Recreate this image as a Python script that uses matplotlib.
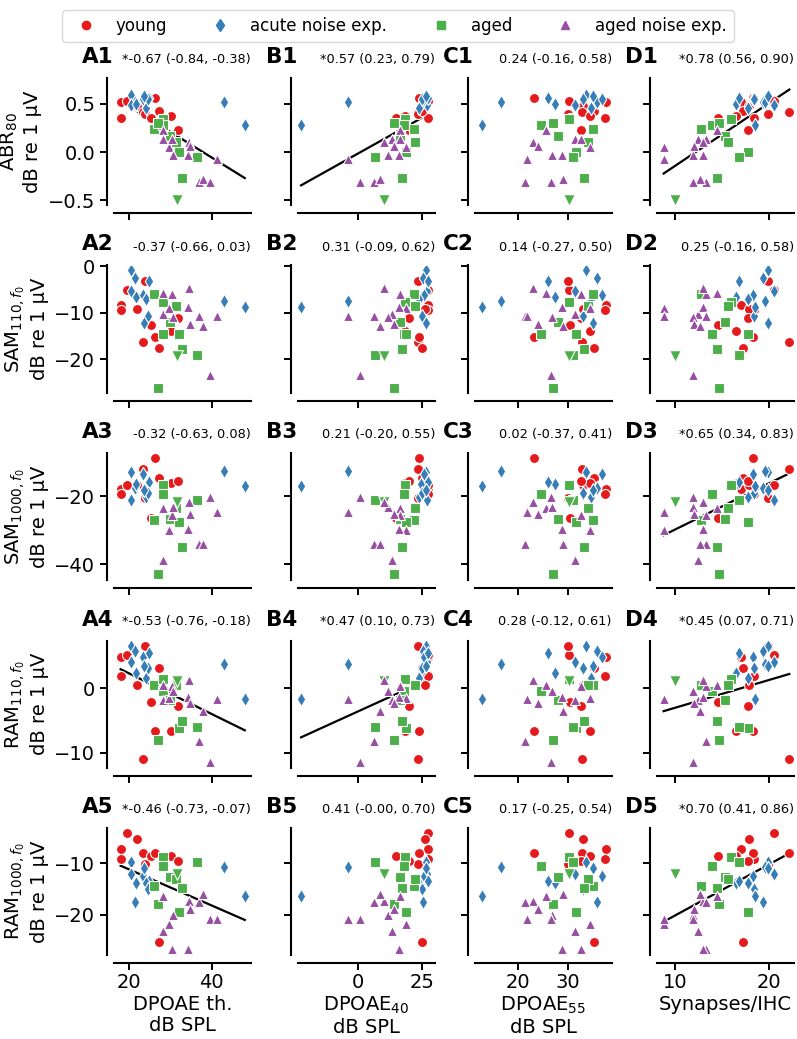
import numpy as np
import matplotlib.pyplot as plt
from matplotlib.lines import Line2D

# one entry per animal: young, acute noise exp., aged, aged noise exp.
group = ['young'] * 11 + ['acute noise exp.'] * 11 + ['aged'] * 10 + ['aged noise exp.'] * 12
# aged animal drawn with a down triangle
special = [False] * 31 + [True] + [False] * 12

thr = [18.0, 18.0, 19.5, 22.0, 23.4, 24.0, 25.4, 26.2, 27.2, 30.2, 31.8,
       20.4, 21.4, 20.6, 21.8, 23.3, 24.8, 24.2, 24.6, 42.9, 48.0, 23.6,
       26.0, 28.2, 28.3, 30.0, 31.4, 32.1, 32.8, 36.5, 27.0, 31.7,
       28.2, 28.3, 29.7, 30.5, 30.7, 34.6, 34.2, 34.7, 36.9, 38.0, 39.5, 41.3]
dp40 = [27.4, 27.3, 27.4, 26.4, 23.7, 23.4, 15.0, 23.8, 25.0, 18.4, 20.0,
        26.5, 25.5, 27.0, 24.7, 26.0, 27.6, 24.0, 25.0, -3.8, -22.2, 26.8,
        22.1, 18.4, 17.9, 16.4, 22.2, 19.0, 17.1, 6.9, 14.0, 10.4,
        16.4, 13.4, 19.0, 16.4, 11.8, 10.4, 16.0, 14.0, 6.5, 8.5, 0.9, -3.7]
dp55 = [37.5, 37.3, 30.1, 32.9, 32.7, 30.0, 30.3, 23.1, 35.2, 34.3, 32.6,
        33.6, 35.7, 31.4, 27.4, 36.7, 25.9, 34.6, 33.0, 16.5, 12.7, 35.0,
        34.9, 30.1, 24.5, 28.0, 33.9, 31.6, 33.1, 31.0, 27.0, 30.1,
        25.5, 31.4, 34.4, 32.6, 26.7, 22.9, 28.8, 24.0, 21.4, 29.0, 26.5, 21.8]
syn = [17.0, 18.4, 20.5, 17.8, 22.1, 19.8, 14.6, 18.3, 17.2, 16.5, 17.7,
       19.8, 19.3, 20.5, 16.5, 18.3, 16.8, 17.7, 18.4, 19.5, 18.5, 19.9,
       12.8, 15.9, 13.9, 15.3, 15.6, 17.7, 14.5, 16.8, 14.7, 10.0,
       14.4, 12.4, 8.8, 13.3, 11.9, 13.0, 13.0, 12.0, 13.3, 12.6, 11.9, 8.8]
abr80 = [0.52, 0.35, 0.53, 0.48, 0.42, 0.40, 0.35, 0.56, 0.43, 0.37, 0.23,
         0.59, 0.52, 0.49, 0.50, 0.55, 0.56, 0.46, 0.55, 0.52, 0.28, 0.58,
         0.24, 0.34, 0.28, 0.17, 0.11, 0.0, -0.27, -0.05, 0.30, -0.5,
         0.23, 0.14, 0.055, 0.14, -0.03, 0.11, -0.03, 0.06, -0.31, -0.28, -0.31, -0.07]
sam110 = [-8.3, -9.5, -5.1, -9.1, -16.2, -3.2, -12.6, -15.3, -17.7, -14.0, -11.2,
          -0.7, -2.6, -5.4, -6.7, -6.1, -3.2, -7.0, -10.7, -7.5, -8.8, -12.2,
          -5.9, -7.7, -14.6, -11.9, -8.5, -14.6, -17.8, -19.1, -26.2, -19.3,
          -5.7, -10.2, -9.0, -5.9, -11.0, -4.6, -8.8, -12.4, -10.7, -12.9, -23.5, -10.7]
sam1000 = [-17.7, -19.4, -16.5, -16.5, -12.0, -20.4, -26.3, -8.8, -14.6, -16.0, -15.4,
           -12.7, -17.5, -20.9, -16.3, -13.4, -15.6, -20.3, -19.0, -12.4, -16.8, -18.0,
           -27.0, -16.5, -19.4, -26.5, -23.5, -27.5, -34.9, -21.1, -42.8, -21.6,
           -23.3, -38.8, -29.8, -25.5, -23.1, -21.6, -29.5, -25.3, -33.9, -33.9, -20.1, -24.5]
ram110 = [4.9, 1.9, 5.2, 0.5, -11.0, 6.5, -2.1, -6.7, 3.2, -6.7, -2.8,
          6.5, 5.7, 4.0, 2.4, 4.9, 5.4, 1.6, 3.1, 3.7, -1.7, 3.5,
          0.5, 1.4, -0.5, -1.8, 0.5, -6.1, -5.1, -6.0, -8.0, 1.1,
          0.5, -1.8, -1.5, 0.3, -0.5, 1.3, -1.3, -2.3, -8.2, -3.5, -11.4, -1.7]
ram1000 = [-7.2, -9.1, -4.1, -5.2, -7.9, -10.1, -8.5, -7.9, -25.4, -8.6, -9.5,
           -9.8, -17.6, -12.0, -13.8, -12.5, -13.4, -13.8, -15.0, -10.8, -16.4, -11.0,
           -14.4, -8.8, -10.5, -12.6, -13.1, -19.5, -14.9, -9.8, -17.9, -12.0,
           -16.4, -23.3, -21.9, -26.7, -20.0, -17.4, -26.7, -19.0, -17.6, -16.0, -20.9, -20.9]

stats = [['*-0.67 (-0.84, -0.38)', '*0.57 (0.23, 0.79)', '0.24 (-0.16, 0.58)', '*0.78 (0.56, 0.90)'],
         ['-0.37 (-0.66, 0.03)', '0.31 (-0.09, 0.62)', '0.14 (-0.27, 0.50)', '0.25 (-0.16, 0.58)'],
         ['-0.32 (-0.63, 0.08)', '0.21 (-0.20, 0.55)', '0.02 (-0.37, 0.41)', '*0.65 (0.34, 0.83)'],
         ['*-0.53 (-0.76, -0.18)', '*0.47 (0.10, 0.73)', '0.28 (-0.12, 0.61)', '*0.45 (0.07, 0.71)'],
         ['*-0.46 (-0.73, -0.07)', '0.41 (-0.00, 0.70)', '0.17 (-0.25, 0.54)', '*0.70 (0.41, 0.86)']]

xdata = [thr, dp40, dp55, syn]
ydata = [abr80, sam110, sam1000, ram110, ram1000]
xlabels = ['DPOAE th.\ndB SPL', 'DPOAE$_{40}$\ndB SPL', 'DPOAE$_{55}$\ndB SPL', 'Synapses/IHC']
ylabels = ['ABR$_{80}$', 'SAM$_{110,f_0}$', 'SAM$_{1000,f_0}$', 'RAM$_{110,f_0}$', 'RAM$_{1000,f_0}$']
xticks = [[20, 40], [0, 25], [20, 30], [10, 20]]
xlims = [(16.4, 49.5), (-23.4, 30.2), (11.4, 38.8), (8.1, 22.6)]
yticks = [[-0.5, 0.0, 0.5], [-20, -10, 0], [-40, -20], [-10, 0], [-20, -10]]
ylims = [(-0.55, 0.77), (-27.2, 0.2), (-44.6, -7.2), (-12.3, 7.4), (-27.9, -3.1)]

groups = ['young', 'acute noise exp.', 'aged', 'aged noise exp.']
colors = ['#e41a1c', '#377eb8', '#4daf4a', '#984ea3']
markers = ['o', 'd', 's', '^']

group = np.array(group)
special = np.array(special)

W, H = 797, 1039
fig = plt.figure(figsize=(W / 100, H / 100), dpi=100)
col_left = [114, 298, 475, 657]
aw, ah = 137, 127

for r in range(5):
    top = 78 + 187.5 * r
    for c in range(4):
        ax = fig.add_axes([col_left[c] / W, 1 - (top + ah) / H, aw / W, ah / H])
        x = np.array(xdata[c], float)
        y = np.array(ydata[r], float)
        if stats[r][c].startswith('*'):
            k, b = np.polyfit(x, y, 1)
            xs = np.array([x.min(), x.max()])
            ax.plot(xs, k * xs + b, color='black', lw=1.6, zorder=1)
        for g, col, mk in zip(groups, colors, markers):
            m = (group == g) & ~special
            ax.scatter(x[m], y[m], s=52, c=col, marker=mk, edgecolors='white',
                       linewidths=0.8, zorder=2)
            m2 = (group == g) & special
            if m2.any():
                ax.scatter(x[m2], y[m2], s=70, c=col, marker='v', edgecolors='white',
                           linewidths=0.8, zorder=2)
        ax.set_xlim(xlims[c])
        ax.set_ylim(ylims[r])
        ax.set_xticks(xticks[c])
        ax.set_yticks(yticks[r])
        for s in ['top', 'right']:
            ax.spines[s].set_visible(False)
        ax.spines['left'].set_position(('outward', 5))
        ax.spines['bottom'].set_position(('outward', 6))
        for s in ['left', 'bottom']:
            ax.spines[s].set_linewidth(1.5)
        ax.tick_params(width=1.4, length=5, labelsize=14)
        ax.tick_params(axis='x', pad=2)
        if c == 0:
            ax.set_ylabel(ylabels[r] + '\ndB re 1 µV', fontsize=14)
        else:
            ax.set_yticklabels([])
        if r == 4:
            ax.set_xlabel(xlabels[c], fontsize=14, labelpad=2, linespacing=1.15)
        else:
            ax.set_xticklabels([])
        ax.text(-32 / aw, 1 + 15 / ah, 'ABCD'[c] + str(r + 1), transform=ax.transAxes,
                fontsize=15.5, fontweight='bold', va='baseline', ha='left')
        ax.text(1.0, 1 + 15 / ah, stats[r][c], transform=ax.transAxes,
                fontsize=9.3, va='baseline', ha='right')

handles = [Line2D([], [], ls='none', marker=mk, color=col, markersize=6)
           for col, mk in zip(colors, markers)]
fig.legend(handles, groups, loc='upper center', bbox_to_anchor=(398 / W, 1 - 2 / H),
           ncol=4, fontsize=12, columnspacing=2.2, frameon=True)

fig.savefig('out.png', dpi=100)
